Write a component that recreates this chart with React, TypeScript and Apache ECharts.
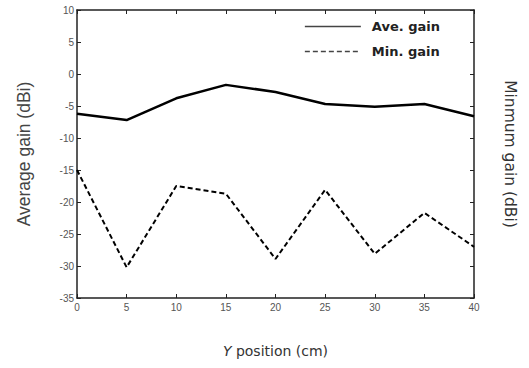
import React, { useEffect, useRef } from "react";
import * as echarts from "echarts";

const positions = [0, 5, 10, 15, 20, 25, 30, 35, 40];
const aveGain = [-6.2, -7.2, -3.8, -1.7, -2.8, -4.7, -5.1, -4.7, -6.6];
const minGain = [-15, -30.2, -17.5, -18.7, -28.9, -18.1, -28.1, -21.7, -27];
const seriesNames = ["Ave. gain", "Min. gain"];

export default function App() {
  const ref = useRef<HTMLDivElement>(null);
  useEffect(() => {
    if (!ref.current) return;
    const chart = echarts.init(ref.current, null, { renderer: "svg" });
    const tickLabel = { fontFamily: "Liberation Sans", fontSize: 10, color: "#555" };
    const axisLine = { show: true, onZero: false, lineStyle: { color: "#222", width: 1.5 } };
    const axisTick = { show: true, inside: true, length: 4, lineStyle: { color: "#222" } };
    chart.setOption({
      animation: false,
      backgroundColor: "#fff",
      grid: { left: 77, right: 55, top: 10, bottom: 70 },
      legend: {
        right: 84,
        top: 15,
        orient: "vertical",
        itemWidth: 56,
        itemHeight: 10,
        itemGap: 12,
        itemStyle: { opacity: 0 },
        lineStyle: { width: 1.5, color: "#444" },
        textStyle: {
          fontFamily: "DejaVu Sans",
          fontSize: 13,
          fontWeight: "bold",
          color: "#222",
          padding: [0, 0, 0, 6],
        },
        data: seriesNames,
      },
      xAxis: [
        {
          type: "value",
          min: 0,
          max: 40,
          interval: 5,
          position: "bottom",
          name: "{i|Y} position (cm)",
          nameLocation: "middle",
          nameGap: 46,
          nameTextStyle: {
            fontFamily: "DejaVu Sans",
            fontSize: 14,
            color: "#333",
            rich: { i: { fontStyle: "italic", fontFamily: "DejaVu Sans", fontSize: 14, color: "#333" } },
          },
          axisLine,
          axisTick,
          axisLabel: { ...tickLabel, margin: 4 },
          splitLine: { show: false },
        },
        {
          type: "value",
          min: 0,
          max: 40,
          interval: 5,
          position: "top",
          axisLine,
          axisTick,
          axisLabel: { show: false },
          splitLine: { show: false },
        },
      ],
      yAxis: [
        {
          type: "value",
          min: -35,
          max: 10,
          interval: 5,
          position: "left",
          name: "Average gain (dBi)",
          nameLocation: "middle",
          nameGap: 44,
          nameTextStyle: { fontFamily: "Liberation Sans", fontSize: 17.5, color: "#444" },
          axisLine,
          axisTick,
          axisLabel: { ...tickLabel, margin: 3 },
          splitLine: { show: false },
        },
        {
          type: "value",
          min: -35,
          max: 10,
          interval: 5,
          position: "right",
          name: "Minmum gain (dBi)",
          nameLocation: "middle",
          nameRotate: -90,
          nameGap: 28,
          nameTextStyle: { fontFamily: "DejaVu Sans", fontSize: 15.5, color: "#333" },
          axisLine,
          axisTick,
          axisLabel: { show: false },
          splitLine: { show: false },
        },
      ],
      series: [
        {
          name: seriesNames[0],
          type: "line",
          symbol: "none",
          data: positions.map((p, i) => [p, aveGain[i]]),
          lineStyle: { color: "#000", width: 2.5, type: "solid" },
          itemStyle: { color: "#000" },
        },
        {
          name: seriesNames[1],
          type: "line",
          symbol: "none",
          data: positions.map((p, i) => [p, minGain[i]]),
          lineStyle: { color: "#000", width: 2, type: [5, 3] },
          itemStyle: { color: "#000" },
        },
      ],
    });
    return () => chart.dispose();
  }, []);
  return <div ref={ref} style={{ width: 529, height: 368, position: "absolute", left: 0, top: 0 }} />;
}
